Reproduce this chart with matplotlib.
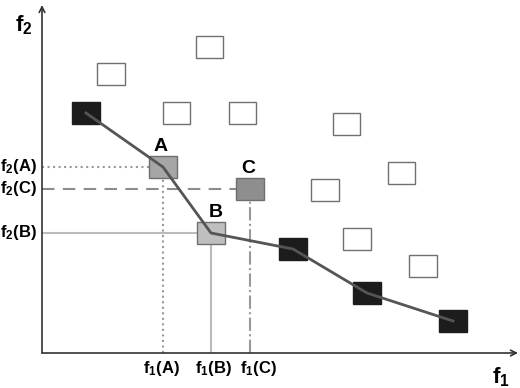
import matplotlib
matplotlib.use('Agg')
import matplotlib.pyplot as plt
import matplotlib.patches as patches

plt.rcParams['font.family'] = ['Liberation Sans', 'DejaVu Sans']
plt.rcParams['mathtext.fontset'] = 'custom'
plt.rcParams['mathtext.rm'] = 'Liberation Sans'
plt.rcParams['mathtext.bf'] = 'Liberation Sans:bold'

# Pareto front (black squares + polyline), f1 / f2 in arbitrary units
front_f1 = [4.4, 12.1, 16.9, 25.1, 32.5, 41.1]
front_f2 = [24.0, 18.6, 12.0, 10.4, 6.0, 3.2]
front_black = [True, False, False, True, True, True]

# highlighted solutions A, B, C
sol_names = ['A', 'B', 'C']
sol_f1 = [12.1, 16.9, 20.8]
sol_f2 = [18.6, 12.0, 16.4]
sol_fill = ['#a6a6a6', '#bfbfbf', '#8e8e8e']

# dominated solutions (white squares)
dom_f1 = [6.9, 16.75, 13.45, 20.05, 30.45, 35.95, 28.3, 31.5, 38.1]
dom_f2 = [27.85, 30.6, 24.0, 24.0, 22.9, 18.0, 16.3, 11.4, 8.7]

SQ_W, SQ_H = 2.75, 2.2
XMAX, YMAX = 47.6, 34.8

fig = plt.figure(figsize=(5.2, 3.88), dpi=100)
ax = fig.add_axes([42 / 520, 35 / 388, 476 / 520, 348 / 388])
ax.set_xlim(0, XMAX)
ax.set_ylim(0, YMAX)
ax.axis('off')


def square(x, y, face, edge):
    ax.add_patch(patches.Rectangle((x - SQ_W / 2, y - SQ_H / 2), SQ_W, SQ_H,
                                   facecolor=face, edgecolor=edge, linewidth=1.0, zorder=3))


# projection lines of A, B, C onto the axes
styles = {
    'A': dict(h=dict(ls=':', color='#999999'), v=dict(ls=':', color='#999999')),
    'B': dict(h=dict(ls='-', color='#bbbbbb'), v=dict(ls='-', color='#bbbbbb')),
    'C': dict(h=dict(ls=(0, (6, 4)), color='#8c8c8c'), v=dict(ls='-.', color='#999999')),
}
for name, x, y in zip(sol_names, sol_f1, sol_f2):
    ax.plot([0, x], [y, y], lw=1.5, zorder=1, **styles[name]['h'])
    ax.plot([x, x], [0, y], lw=1.5, zorder=1, **styles[name]['v'])

for x, y in zip(dom_f1, dom_f2):
    square(x, y, 'white', '#707070')

for x, y, black in zip(front_f1, front_f2, front_black):
    if black:
        square(x, y, '#1c1c1c', '#1c1c1c')

for x, y, c in zip(sol_f1, sol_f2, sol_fill):
    square(x, y, c, '#6e6e6e')

ax.plot(front_f1, front_f2, color='#555555', lw=2, zorder=4)

# point labels
lbl_dx = [-0.2, 0.5, -0.2]
for name, x, y, dx in zip(sol_names, sol_f1, sol_f2, lbl_dx):
    ax.text(x + dx, y + 2.05, name, fontsize=14, fontweight='bold',
            ha='center', va='center', zorder=5)

# tick-like labels
bottom_x = [11.9, 17.1, 21.6]
for name, x, y, bx in zip(sol_names, sol_f1, sol_f2, bottom_x):
    ax.text(-0.5, y, r'$\mathbf{f_2(%s)}$' % name, fontsize=12,
            ha='right', va='center', clip_on=False)
    ax.text(bx, -1.5, r'$\mathbf{f_1(%s)}$' % name, fontsize=12,
            ha='center', va='center', clip_on=False)

# axes with arrows
arrow = dict(arrowstyle='->', color='#333333', lw=1.2, shrinkA=0, shrinkB=0)
ax.annotate('', xy=(XMAX, 0), xytext=(0, 0), arrowprops=arrow, annotation_clip=False)
ax.annotate('', xy=(0, YMAX), xytext=(0, 0), arrowprops=arrow, annotation_clip=False)
ax.text(-1.8, 32.8, r'$\mathbf{f_2}$', fontsize=16, ha='center', va='center', clip_on=False)
ax.text(45.9, -2.4, r'$\mathbf{f_1}$', fontsize=16, ha='center', va='center', clip_on=False)

fig.savefig('out.png', dpi=100)
